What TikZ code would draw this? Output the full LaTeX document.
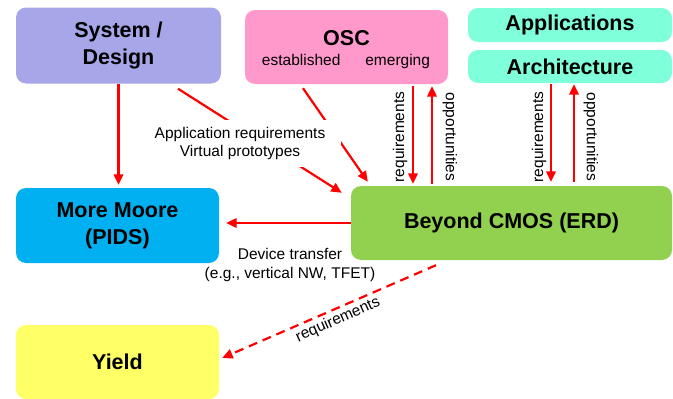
\documentclass[tikz,border=0pt]{standalone}
\usepackage{fontspec}
\setmainfont{Liberation Sans}
\usetikzlibrary{arrows.meta,calc}
\definecolor{csys}{HTML}{A6A6E8}
\definecolor{cosc}{HTML}{FF99CC}
\definecolor{capp}{HTML}{80FFDB}
\definecolor{cpids}{HTML}{00B0F0}
\definecolor{cerd}{HTML}{92D050}
\definecolor{cyield}{HTML}{FFFF66}
\definecolor{cred}{HTML}{FF0000}
\begin{document}
\begin{tikzpicture}[x=1pt,y=-1pt,
  box/.style={rounded corners=10pt, inner sep=0pt, align=center, text=black,
    font=\bfseries\fontsize{21.5}{27}\selectfont},
  small/.style={font=\fontsize{15.5}{18.5}\selectfont, text=black, inner sep=0pt},
  arr/.style={draw=cred, line width=2.2pt, -{Triangle[length=10.5pt,width=9.5pt]}},
  darr/.style={arr, dash pattern=on 9pt off 6pt}]
\useasboundingbox (0,0) rectangle (673,399);
\node[box, fill=csys, minimum width=205, minimum height=76] (sys) at (118.5,45.5) {System /\\Design};
\node[box, fill=cosc, minimum width=203, minimum height=74] (osc) at (346.5,47) {};
\node[font=\bfseries\fontsize{21.5}{27}\selectfont, inner sep=0pt] (osct) at (346.5,38) {OSC};
\node[small] (osce) at (346,61) {established\hspace{25pt}emerging};
\node[box, fill=capp, minimum width=204, minimum height=34] (app) at (570,25) {Applications};
\node[box, fill=capp, minimum width=204, minimum height=33] (arch) at (570,66.5) {Architecture};
\node[box, fill=cpids, minimum width=203, minimum height=75] (pids) at (117.5,225.5) {More Moore\\(PIDS)};
\node[box, fill=cerd, minimum width=321, minimum height=74] (erd) at (511.5,223) {Beyond CMOS (ERD)};
\node[box, fill=cyield, minimum width=203, minimum height=74] (yield) at (117.5,362) {Yield};

\coordinate (xr1) at (413,0);
\coordinate (xo1) at (432,0);
\coordinate (xr2) at (551,0);
\coordinate (xo2) at (574,0);

\draw[arr, shorten >=3pt] (sys.south) -- (sys.south |- pids.north);
\draw[arr] ($(sys.south)+(59.5,5)$) -- ($(erd.north west)+(-9,7)$);
\draw[arr] ($(osc.south)+(-43.5,4)$) -- ($(erd.north west)+(17,-4)$);
\draw[arr, shorten <=2pt, shorten >=2pt] (xr1 |- osc.south) -- (xr1 |- erd.north);
\draw[arr, shorten <=2pt, shorten >=2pt] (xo1 |- erd.north) -- (xo1 |- osc.south);
\draw[arr, shorten <=1pt, shorten >=4pt] (xr2 |- arch.south) -- (xr2 |- erd.north);
\draw[arr, shorten <=4pt, shorten >=1pt] (xo2 |- erd.north) -- (xo2 |- arch.south);
\draw[arr, shorten >=7pt] (erd.west) -- (erd.west -| pids.east);
\draw[darr] ($(erd.south)+(-75.5,5)$) -- ($(yield.east)+(3,-4)$);

\node[small, fill=white, minimum width=202, minimum height=47, align=center] (lapp) at (240,143.5) {Application requirements\\Virtual prototypes};
\node[small, rotate=90] (lr1) at (400,137) {requirements};
\node[small, rotate=-90] (lo1) at (450,137) {opportunities};
\node[small, rotate=90] (lr2) at (539,137) {requirements};
\node[small, rotate=-90] (lo2) at (591,137) {opportunities};
\node[small, align=center] (ldev) at (290,265) {Device transfer\\(e.g., vertical NW, TFET)};
\node[small, rotate=24] (lreq) at (338,320) {requirements};
\end{tikzpicture}
\end{document}
